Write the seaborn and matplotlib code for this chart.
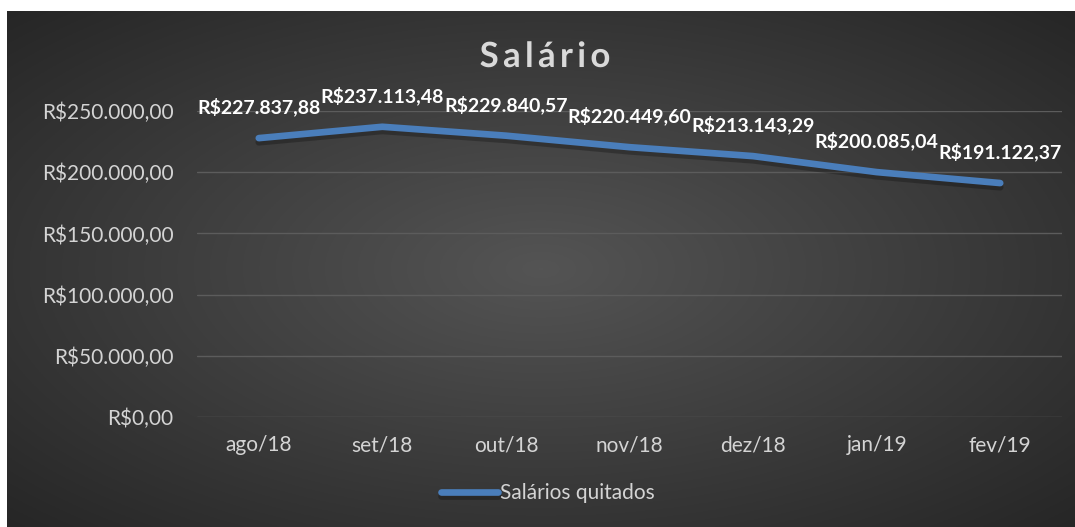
import numpy as np
import pandas as pd
import matplotlib
matplotlib.use('Agg')
import matplotlib.pyplot as plt
import matplotlib.patheffects as pe
from matplotlib.ticker import FuncFormatter
import seaborn as sns

months = ['ago/18', 'set/18', 'out/18', 'nov/18', 'dez/18', 'jan/19', 'fev/19']
salarios = [227837.88, 237113.48, 229840.57, 220449.60, 213143.29, 200085.04, 191122.37]
yticks = [0, 50000, 100000, 150000, 200000, 250000]

df = pd.DataFrame({'mes': months, 'valor': salarios})


def brl(v):
    s = f"{v:,.2f}"
    s = s.replace(',', 'X').replace('.', ',').replace('X', '.')
    return 'R$' + s


sns.set_style('dark')
plt.rcParams['font.family'] = ['Lato', 'DejaVu Sans']

fig = plt.figure(figsize=(10.75, 5.27), dpi=100, facecolor='white')

# dark radial gradient background (Excel style)
bg = fig.add_axes([7 / 1075, 0, 1068 / 1075, 516 / 527])
yy, xx = np.mgrid[-1:1:300j, -1:1:600j]
r = np.sqrt(xx ** 2 + yy ** 2) / np.sqrt(2)
shade = 0.33 - 0.18 * r
bg.imshow(np.dstack([shade, shade, shade]), aspect='auto', extent=[0, 1, 0, 1])
bg.set_axis_off()

ax = fig.add_axes([197 / 1075, (527 - 417) / 527, 865 / 1075, 306 / 527])
ax.patch.set_alpha(0)

line_color = '#4a7ebb'
sns.lineplot(data=df, x='mes', y='valor', ax=ax, color=line_color, linewidth=4.8,
             sort=False, label='Salários quitados', legend=False,
             path_effects=[pe.SimpleLineShadow(offset=(0, -3), alpha=0.25, shadow_color='black'), pe.Normal()])
for l in ax.lines:
    l.set_solid_capstyle('round')

for i, v in enumerate(salarios):
    ax.annotate(brl(v), (i, v), xytext=(0, 31), textcoords='offset pixels',
                ha='center', va='center', color='white', fontsize=14, fontweight='bold')

ax.set_xlim(-0.5, len(months) - 0.5)
ax.set_ylim(0, 250000)
ax.set_yticks(yticks)
ax.yaxis.set_major_formatter(FuncFormatter(lambda v, p: brl(v)))
ax.grid(axis='y', color='#5c5c5c', linewidth=1)
ax.grid(axis='x', visible=False)
for s in ax.spines.values():
    s.set_visible(False)
ax.tick_params(axis='y', length=0, pad=17, labelsize=15, labelcolor='#d4d4d4')
ax.tick_params(axis='x', length=0, pad=13, labelsize=15, labelcolor='#d4d4d4')
ax.set_xlabel('')
ax.set_ylabel('')

# title with wide letter spacing (thin spaces)
title = '\u2009'.join('Salário')
fig.text(545 / 1075, 1 - 57 / 527, title, ha='center', va='center',
         fontsize=25, fontweight='bold', color='#d9d9d9',
         path_effects=[pe.withSimplePatchShadow(offset=(1, -1), alpha=0.4)])

handles, labels = ax.get_legend_handles_labels()
leg = fig.legend(handles, labels, loc='center', bbox_to_anchor=(548 / 1075, 34 / 527),
                 frameon=False, fontsize=15, handlelength=2.7, handletextpad=0.1,
                 labelcolor='#d4d4d4')

fig.savefig('out.png', dpi=100, facecolor='white')
